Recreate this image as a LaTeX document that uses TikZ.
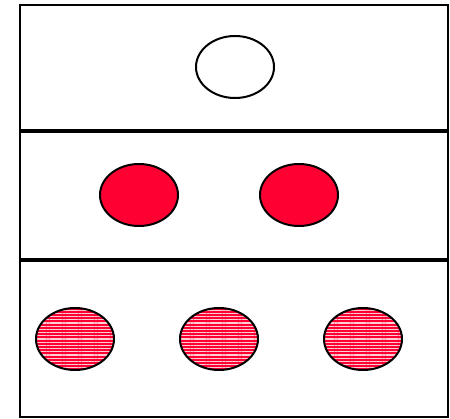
\documentclass[tikz,border=0pt]{standalone}
\usepackage{xcolor}
\usetikzlibrary{shapes.geometric,patterns.meta}
\definecolor{hotred}{RGB}{255,0,51}

\begin{document}
\begin{tikzpicture}[
    x=1pt, y=-1pt,
    blob/.style={ellipse, draw, line width=2pt, minimum width=78pt, minimum height=62pt, inner sep=0pt},
    solid red/.style={blob, fill=hotred},
    striped/.style={blob, preaction={fill=hotred}, pattern={Lines[angle=0,distance=3.2pt,line width=1.2pt]}, pattern color=white!80!hotred},
    divider/.style={line width=4pt}
]
\useasboundingbox (0,0) rectangle (450,419);
\draw[line width=2pt] (20,5) rectangle (448,417);
\coordinate (divA west) at (20,131);
\coordinate (divA east) at (449,131);
\coordinate (divB west) at (20,260);
\coordinate (divB east) at (449,260);
\draw[divider] (divA west) -- (divA east);
\draw[divider] (divB west) -- (divB east);

% top row
\node[blob, fill=white] (empty) at (235,67) {};
% middle row
\node[solid red] (fullA) at (139,195) {};
\node[solid red] (fullB) at (299,195) {};
% bottom row
\node[striped] (stripeA) at (75,339) {};
\node[striped] (stripeB) at (219,339) {};
\node[striped] (stripeC) at (363,339) {};
\end{tikzpicture}
\end{document}
